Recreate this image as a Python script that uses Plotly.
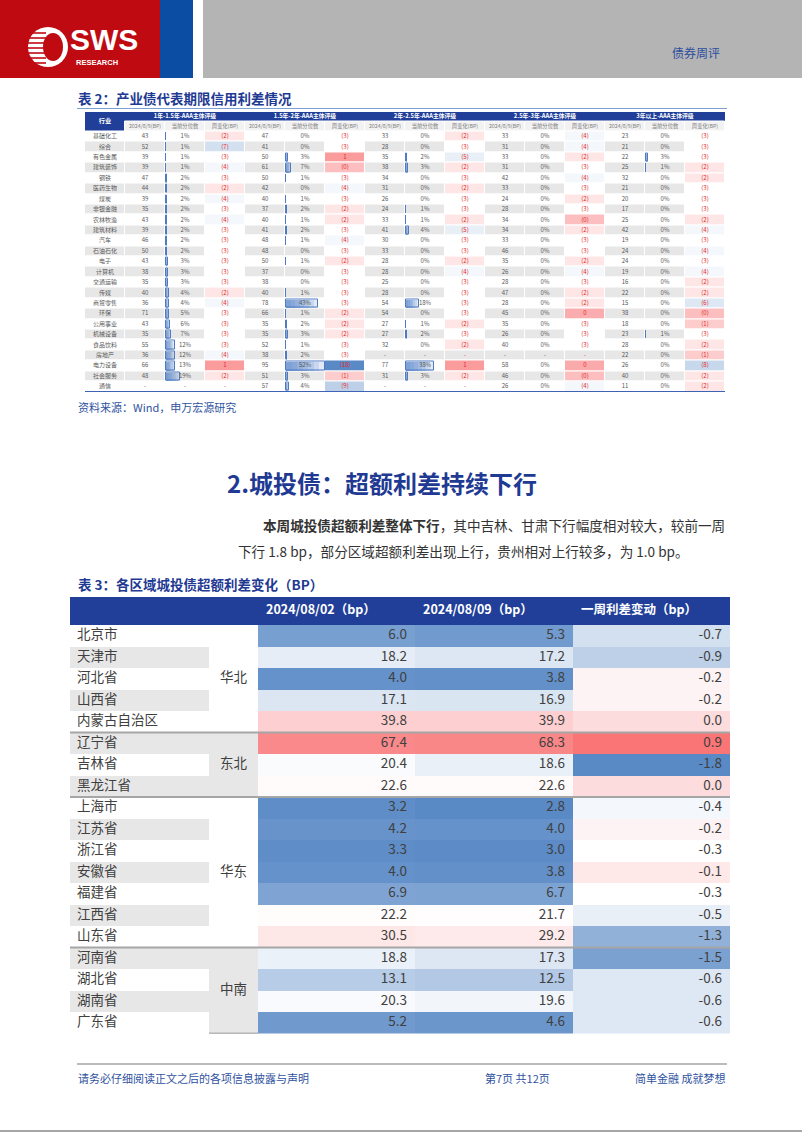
import plotly.graph_objects as go

W, H = 802, 1133
FONT = "Noto Sans CJK SC, Noto Sans, sans-serif"
BLUE_HDR = "#213F99"
GRAY_ROW = "#E7E7E7"
TXT = "#595959"

# ---------------- Table 2 data ----------------
industries = ["基础化工", "综合", "有色金属", "建筑装饰", "钢铁", "医药生物", "煤炭", "非银金融",
              "农林牧渔", "建筑材料", "汽车", "石油石化", "电子", "计算机", "交通运输", "传媒",
              "商贸零售", "环保", "公用事业", "机械设备", "食品饮料", "房地产", "电力设备", "社会服务", "通信"]
group_titles = ["1年-1.5年-AAA主体评级", "1.5年-2年-AAA主体评级", "2年-2.5年-AAA主体评级",
                "2.5年-3年-AAA主体评级", "3年以上-AAA主体评级"]
sub_titles = ["2024/8/9(BP)", "当前分位数", "周变化(BP)"]
first_col_title = "行业"

g1_spread = [43, 52, 39, 39, 47, 44, 39, 35, 43, 39, 46, 50, 43, 38, 35, 40, 36, 71, 43, 35, 55, 36, 66, 48, None]
g1_pct = [1, 1, 1, 1, 2, 2, 2, 2, 2, 2, 2, 2, 3, 3, 3, 4, 4, 5, 6, 7, 12, 12, 13, 19, None]
g1_chg = [-2, -7, -3, -4, -3, -2, -4, -3, -4, -3, -3, -3, -3, -3, -3, -2, -4, -3, -3, -3, -3, -4, 1, -2, None]

g2_spread = [47, 41, 50, 61, 50, 42, 40, 37, 40, 41, 48, 48, 50, 37, 38, 40, 78, 66, 35, 35, 52, 38, 95, 51, 57]
g2_pct = [0, 0, 3, 7, 1, 0, 1, 2, 1, 2, 1, 0, 1, 0, 0, 1, 43, 1, 2, 3, 1, 2, 52, 3, 4]
g2_chg = [-3, -3, 1, -0.4, -3, -4, -3, -2, -2, -3, -4, -3, -2, -3, -3, -3, -3, -2, -2, -2, -3, -3, -18, -1, -9]

g3_spread = [33, 28, 35, 38, 34, 31, 26, 24, 33, 41, 30, 33, 28, 28, 25, 28, 54, 54, 27, 27, 32, None, 77, 31, None]
g3_pct = [0, 0, 2, 3, 0, 0, 0, 1, 1, 4, 0, 0, 0, 0, 0, 0, 18, 0, 1, 2, 0, None, 38, 3, None]
g3_chg = [-2, -3, -5, -2, -3, -2, -3, -3, -2, -5, -3, -3, -2, -4, -3, -3, -3, -3, -2, -3, -2, None, 1, -2, None]

g4_spread = [33, 31, 33, 31, 42, 33, 24, 28, 34, 34, 33, 46, 35, 26, 28, 47, 28, 45, 35, 26, 40, None, 58, 46, 26]
g4_pct = [0, 0, 0, 0, 0, 0, 0, 0, 0, 0, 0, 0, 0, 0, 0, 0, 0, 0, 0, 0, 0, None, 0, 0, 0]
g4_chg = [-4, -4, -2, -3, -4, -3, -2, -3, -0.4, -2, -3, -3, -2, -4, -3, -2, -2, 0.3, -3, -3, -3, None, 0.4, -0.4, -4]

g5_spread = [23, 21, 22, 25, 32, 21, 20, 17, 25, 42, 19, 24, 24, 19, 16, 22, 15, 38, 18, 23, 28, 22, 26, 40, 11]
g5_pct = [0, 0, 3, 1, 0, 0, 0, 0, 0, 0, 0, 0, 0, 0, 0, 0, 0, 0, 0, 1, 0, 0, 0, 0, 0]
g5_chg = [-3, -3, -3, -2, -2, -3, -3, -3, -2, -4, -3, -4, -3, -4, -2, -2, -6, -0.4, -1, -3, -2, -1, -8, -2, -2]

# ---------------- Table 3 data ----------------
provinces = ["北京市", "天津市", "河北省", "山西省", "内蒙古自治区", "辽宁省", "吉林省", "黑龙江省",
             "上海市", "江苏省", "浙江省", "安徽省", "福建省", "江西省", "山东省",
             "河南省", "湖北省", "湖南省", "广东省"]
regions = ["华北"] * 5 + ["东北"] * 3 + ["华东"] * 7 + ["中南"] * 4
t3_headers = ["2024/08/02（bp）", "2024/08/09（bp）", "一周利差变动（bp）"]
spread_0802 = [6.0, 18.2, 4.0, 17.1, 39.8, 67.4, 20.4, 22.6, 3.2, 4.2, 3.3, 4.0, 6.9, 22.2, 30.5, 18.8, 13.1, 20.3, 5.2]
spread_0809 = [5.3, 17.2, 3.8, 16.9, 39.9, 68.3, 18.6, 22.6, 2.8, 4.0, 3.0, 3.8, 6.7, 21.7, 29.2, 17.3, 12.5, 19.6, 4.6]
week_change = [-0.7, -0.9, -0.2, -0.2, 0.0, 0.9, -1.8, 0.0, -0.4, -0.2, -0.3, -0.1, -0.3, -0.5, -1.3, -1.5, -0.6, -0.6, -0.6]

groups = [
    (g1_spread, g1_pct, g1_chg),
    (g2_spread, g2_pct, g2_chg),
    (g3_spread, g3_pct, g3_chg),
    (g4_spread, g4_pct, g4_chg),
    (g5_spread, g5_pct, g5_chg),
]


def X(p):
    return p / W


def Y(p):
    return 1 - p / H


def scale3(v, lo, mid, hi, c_lo=(90, 138, 198), c_mid=(255, 255, 255), c_hi=(248, 105, 107)):
    if v <= mid:
        t = min(1.0, (mid - v) / (mid - lo))
        c = c_lo
    else:
        t = min(1.0, (v - mid) / (hi - mid))
        c = c_hi
    r = [round(c_mid[i] + (c[i] - c_mid[i]) * t) for i in range(3)]
    return "rgb(%d,%d,%d)" % tuple(r)


def f_int(v):
    return "-" if v is None else "%d" % v


def f_pct(v):
    return "-" if v is None else "%d%%" % v


def f_chg(v):
    if v is None:
        return "-"
    r = abs(int(round(v)))
    return "(%d)" % r if v < 0 else "%d" % r


fig = go.Figure()


def cells(xa, ya, base, width, ys, colors, thick=1.0, line_w=1.0, line_c="white"):
    fig.add_trace(go.Bar(
        x=[width] * len(ys), y=ys, base=[base] * len(ys), orientation="h", width=thick,
        marker=dict(color=colors, line=dict(color=line_c, width=line_w)),
        xaxis=xa, yaxis=ya, hoverinfo="skip", showlegend=False))


def texts(xa, ya, xs, ys, labels, size, color, pos="middle center"):
    fig.add_trace(go.Scatter(
        x=xs, y=ys, text=labels, mode="text", textposition=pos,
        textfont=dict(size=size, color=color, family=FONT),
        xaxis=xa, yaxis=ya, hoverinfo="skip", showlegend=False, cliponaxis=False))


# ================= Table 2 (axes x / y, unit = one column / one body row) =================
n2 = len(industries)
rows2 = list(range(n2))
NC2 = 16
T2_X0, T2_X1 = 85, 725
T2_TOP, T2_ROWPX = 111.5, 10.42
HDR_GRP, HDR_SUB = 0.92, 1.0          # header row heights in body-row units
y_sub = -0.5 - HDR_SUB / 2
y_grp = -0.5 - HDR_SUB - HDR_GRP / 2
top_u = -0.5 - HDR_SUB - HDR_GRP
T2_BOT = T2_TOP + (n2 - 0.5 - top_u) * T2_ROWPX

zebra = ["white" if i % 2 == 0 else GRAY_ROW for i in range(n2)]

# header: merged first column + group titles + sub titles
cells("x", "y", 0, 1, [(y_sub + y_grp) / 2], [BLUE_HDR], thick=HDR_SUB + HDR_GRP, line_w=0)
for g in range(5):
    cells("x", "y", 1 + 3 * g, 3, [y_grp], [BLUE_HDR], thick=HDR_GRP, line_w=0)
for c in range(1, NC2):
    cells("x", "y", c, 1, [y_sub], ["#F2F2F2"], thick=HDR_SUB, line_w=1)
texts("x", "y", [0.5], [(y_sub + y_grp) / 2], ["<b>%s</b>" % first_col_title], 6.2, "white")
texts("x", "y", [2.5 + 3 * g for g in range(5)], [y_grp] * 5,
      ["<b>%s</b>" % t for t in group_titles], 5.8, "white")
texts("x", "y", [c + 0.5 for c in range(1, NC2)], [y_sub] * 15, sub_titles * 5, 5.3, "#808080")

# body fills
cells("x", "y", 0, 1, rows2, zebra)
for g, (sp, pc, ch) in enumerate(groups):
    cells("x", "y", 1 + 3 * g, 1, rows2, zebra)
    cells("x", "y", 2 + 3 * g, 1, rows2, zebra)
    cells("x", "y", 3 + 3 * g, 1, rows2,
          [zebra[i] if v is None else scale3(v, -18, -3, 3) for i, v in enumerate(ch)])

# data bars (gradient imitation) for the percentile columns
PCT_MAX = 53.0
for g, (sp, pc, ch) in enumerate(groups):
    base = 2 + 3 * g + 0.015
    vals = [v if v else None for v in pc]
    for k in (1.0, 0.86, 0.72, 0.58, 0.44, 0.3, 0.16):
        fig.add_trace(go.Bar(
            x=[None if v is None else v / PCT_MAX * k for v in vals], y=rows2,
            base=[base] * n2, orientation="h", width=0.8,
            marker=dict(color="rgba(76,122,196,0.16)", line=dict(width=0)),
            xaxis="x", yaxis="y", hoverinfo="skip", showlegend=False))
    fig.add_trace(go.Bar(
        x=[None if v is None else v / PCT_MAX for v in vals], y=rows2,
        base=[base] * n2, orientation="h", width=0.8,
        marker=dict(color="rgba(0,0,0,0)", line=dict(color="#4F7BC4", width=1)),
        xaxis="x", yaxis="y", hoverinfo="skip", showlegend=False))

# body texts
texts("x", "y", [0.5] * n2, rows2, industries, 6, TXT)
for g, (sp, pc, ch) in enumerate(groups):
    texts("x", "y", [1.5 + 3 * g] * n2, rows2, [f_int(v) for v in sp], 6, TXT)
    texts("x", "y", [2.5 + 3 * g] * n2, rows2, [f_pct(v) for v in pc], 6, TXT)
    texts("x", "y", [3.5 + 3 * g] * n2, rows2, [f_chg(v) for v in ch], 6, "#E02A2A")

# ================= Table 3 (axes x2 / y2, x unit = pixel width, y unit = body row) =================
n3 = len(provinces)
rows3 = list(range(n3))
T3_WIDTHS = [139, 49, 157, 158, 157]
T3_X0 = 70
T3_TOP, T3_HDRPX, T3_ROWPX = 597, 28, 21.5
edges = [0]
for w_ in T3_WIDTHS:
    edges.append(edges[-1] + w_)
hdr_u = T3_HDRPX / T3_ROWPX
y_hdr3 = -0.5 - hdr_u / 2
T3_BOT = T3_TOP + T3_HDRPX + n3 * T3_ROWPX

runs = []
for i, r in enumerate(regions):
    if runs and runs[-1][0] == r:
        runs[-1][2] += 1
    else:
        runs.append([r, i, 1])
region_fill = []
for gi, (r, s, n) in enumerate(runs):
    region_fill += ["white" if gi % 2 == 0 else GRAY_ROW] * n

cells("x2", "y2", 0, edges[-1], [y_hdr3], [BLUE_HDR], thick=hdr_u, line_w=0)
texts("x2", "y2", [edges[2 + i] + 8 for i in range(3)], [y_hdr3] * 3,
      ["<b>%s</b>" % h for h in t3_headers], 12.5, "white", "middle right")

cells("x2", "y2", edges[0], T3_WIDTHS[0], rows3,
      ["white" if i % 2 == 0 else GRAY_ROW for i in range(n3)], line_w=0)
cells("x2", "y2", edges[1], T3_WIDTHS[1], rows3, region_fill, line_w=0)
cells("x2", "y2", edges[2], T3_WIDTHS[2], rows3, [scale3(v, 2.8, 21, 80) for v in spread_0802], line_w=0)
cells("x2", "y2", edges[3], T3_WIDTHS[3], rows3, [scale3(v, 2.8, 21, 80) for v in spread_0809], line_w=0)
cells("x2", "y2", edges[4], T3_WIDTHS[4], rows3, [scale3(v, -1.8, -0.3, 1.0) for v in week_change], line_w=0)

texts("x2", "y2", [edges[0] + 7] * n3, rows3, provinces, 13.5, "#404040", "middle right")
texts("x2", "y2", [edges[3] - 8] * n3, rows3, ["%.1f" % v for v in spread_0802], 13.5, "#404040", "middle left")
texts("x2", "y2", [edges[4] - 8] * n3, rows3, ["%.1f" % v for v in spread_0809], 13.5, "#404040", "middle left")
texts("x2", "y2", [edges[5] - 8] * n3, rows3, ["%.1f" % v for v in week_change], 13.5, "#404040", "middle left")
texts("x2", "y2", [(edges[1] + edges[2]) / 2] * len(runs), [s + n / 2 - 0.5 for r, s, n in runs],
      [r for r, s, n in runs], 13.5, "#404040")

fig.update_layout(
    xaxis=dict(domain=[X(T2_X0), X(T2_X1)], range=[0, NC2], visible=False, fixedrange=True, anchor="y"),
    yaxis=dict(domain=[Y(T2_BOT), Y(T2_TOP)], range=[n2 - 0.5, top_u], visible=False, fixedrange=True,
               anchor="x"),
    xaxis2=dict(domain=[X(T3_X0), X(T3_X0 + edges[-1])], range=[0, edges[-1]], visible=False,
                fixedrange=True, anchor="y2"),
    yaxis2=dict(domain=[Y(T3_BOT), Y(T3_TOP)], range=[n3 - 0.5, -0.5 - hdr_u], visible=False,
                fixedrange=True, anchor="x2"),
)

# ---------------- decorations ----------------
shapes = []


def rect(x0, y0, x1, y1, color, kind="rect"):
    shapes.append(dict(type=kind, xref="paper", yref="paper", x0=X(x0), x1=X(x1), y0=Y(y1), y1=Y(y0),
                       fillcolor=color, line=dict(width=0), layer="above"))


def hline(x0, x1, y, color, width):
    shapes.append(dict(type="line", xref="paper", yref="paper", x0=X(x0), x1=X(x1), y0=Y(y), y1=Y(y),
                       line=dict(color=color, width=width), layer="above"))


rect(0, 0, 160, 78, "#BF0A12")
rect(160, 0, 193, 78, "#0B4DA2")
rect(203, 0, 802, 78, "#B4B4B4")
rect(28, 27, 68, 67, "white", "circle")
rect(43, 33, 63, 61, "#BF0A12", "circle")
for yy in (33, 38, 43, 48, 53, 58, 63):
    hline(28, 46, yy, "#BF0A12", 1.6)

hline(77, 727, 108.5, "#7E9FD6", 1)

# table 2 bottom rule, drawn on the table axes
shapes.append(dict(type="line", xref="x", yref="y", x0=0, x1=NC2, y0=n2 - 0.5, y1=n2 - 0.5,
                   line=dict(color="#3F63B4", width=2), layer="above"))
# table 3 region separators
for r, s, n in runs[1:]:
    shapes.append(dict(type="line", xref="x2", yref="y2", x0=0, x1=edges[-1], y0=s - 0.5, y1=s - 0.5,
                       line=dict(color="#A6A6A6", width=2), layer="above"))
shapes.append(dict(type="line", xref="x2", yref="y2", x0=edges[1], x1=edges[2], y0=n3 - 0.5, y1=n3 - 0.5,
                   line=dict(color="#7F7F7F", width=1.5), layer="above"))

hline(77, 727, 1064, "#A6A6A6", 1.5)
hline(0, 802, 1131, "#A6A6A6", 2)

annotations = []


def ann(text, x, y, size, color, xanchor="left", family=FONT):
    annotations.append(dict(text=text, x=X(x), y=Y(y), xref="paper", yref="paper",
                            xanchor=xanchor, yanchor="middle", showarrow=False,
                            font=dict(size=size, color=color, family=family)))


ann("<b>SWS</b>", 68, 39, 30, "white", family="Liberation Sans, Arial, sans-serif")
ann("<b>RESEARCH</b>", 74, 62, 7.5, "white", family="Liberation Sans, Arial, sans-serif")
ann("债券周评", 722, 52, 12, "#2D4E9F", "right")

ann("<b>表 2：产业债代表期限信用利差情况</b>", 76, 98, 13.5, "#1F3A93")
ann("资料来源：Wind，申万宏源研究", 76, 407, 11, "#2F52A0")

ann("<b>2.城投债：超额利差持续下行</b>", 225, 483, 24, "#1F3A93")
ann("<b>本周城投债超额利差整体下行</b>，其中吉林、甘肃下行幅度相对较大，较前一周", 727, 525, 13.6, "#333333", "right")
ann("下行 1.8 bp，部分区域超额利差出现上行，贵州相对上行较多，为 1.0 bp。", 236, 551, 13.6, "#333333")

ann("<b>表 3：各区域城投债超额利差变化（BP）</b>", 76, 584, 13.5, "#1F3A93")

ann("请务必仔细阅读正文之后的各项信息披露与声明", 76, 1078, 11, "#2F52A0")
ann("第7页 共12页", 517, 1078, 11, "#2F52A0", "center")
ann("简单金融 成就梦想", 727, 1078, 11, "#2F52A0", "right")

fig.update_layout(
    width=W, height=H, margin=dict(l=0, r=0, t=0, b=0),
    paper_bgcolor="white", plot_bgcolor="rgba(0,0,0,0)",
    showlegend=False, barmode="overlay", bargap=0,
    shapes=shapes, annotations=annotations,
    font=dict(family=FONT),
)

fig.write_html("out.html", config={"displayModeBar": False},
               post_script="document.body.style.margin='0';document.body.style.overflow='hidden';")
